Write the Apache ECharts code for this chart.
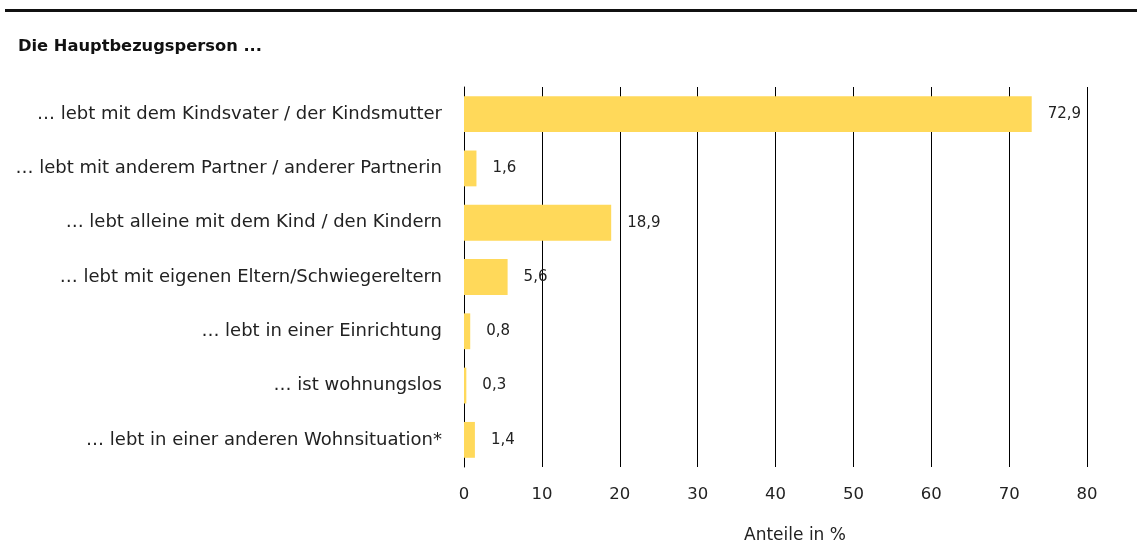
<!DOCTYPE html>
<html><head><meta charset="utf-8">
<script src="https://cdn.jsdelivr.net/npm/echarts@6/dist/echarts.min.js"></script>
<style>html,body{margin:0;padding:0;background:#fff}#c{width:1137px;height:544px}</style>
</head><body><div id="c"></div>
<script>
const categories = [
  "… lebt mit dem Kindsvater / der Kindsmutter",
  "… lebt mit anderem Partner / anderer Partnerin",
  "… lebt alleine mit dem Kind / den Kindern",
  "… lebt mit eigenen Eltern/Schwiegereltern",
  "… lebt in einer Einrichtung",
  "… ist wohnungslos",
  "… lebt in einer anderen Wohnsituation*"
];
const values = [72.9, 1.6, 18.9, 5.6, 0.8, 0.3, 1.4];
const titleText = "Die Hauptbezugsperson ...";
const axisName = "Anteile in %";

const font = "DejaVu Sans";
const chart = echarts.init(document.getElementById('c'));
chart.setOption({
  animation: false,
  textStyle: { fontFamily: font },
  graphic: [
    { type: 'rect', shape: { x: 5, y: 9, width: 1132, height: 3 }, style: { fill: '#111' } },
    { type: 'text', x: 18, y: 47, style: { text: titleText, fontFamily: font, fontSize: 16.3, fontWeight: 'bold', fill: '#111', verticalAlign: 'middle' } },
    { type: 'text', x: 795, y: 536, style: { text: axisName, fontFamily: font, fontSize: 17, fill: '#222', align: 'center', verticalAlign: 'middle' } }
  ],
  grid: { left: 464, right: 50, top: 87, bottom: 77, containLabel: false },
  xAxis: {
    type: 'value', min: 0, max: 80, interval: 10,
    axisLine: { show: false }, axisTick: { show: false },
    splitLine: { show: true, lineStyle: { color: '#000', width: 1 } },
    axisLabel: { color: '#222', fontSize: 16.5, margin: 19, fontFamily: font }
  },
  yAxis: {
    type: 'category', data: categories, inverse: true,
    axisLine: { show: true, lineStyle: { color: '#000', width: 1 } },
    axisTick: { show: false },
    axisLabel: { color: '#222', fontSize: 18, margin: 22, fontFamily: font }
  },
  series: [{
    type: 'bar', data: values, barWidth: '66%',
    itemStyle: { color: '#FFD95A' },
    label: {
      show: true, position: 'right', distance: 16, color: '#222', fontSize: 15, fontFamily: font,
      formatter: p => String(p.value).replace('.', ',')
    }
  }]
});
</script></body></html>
